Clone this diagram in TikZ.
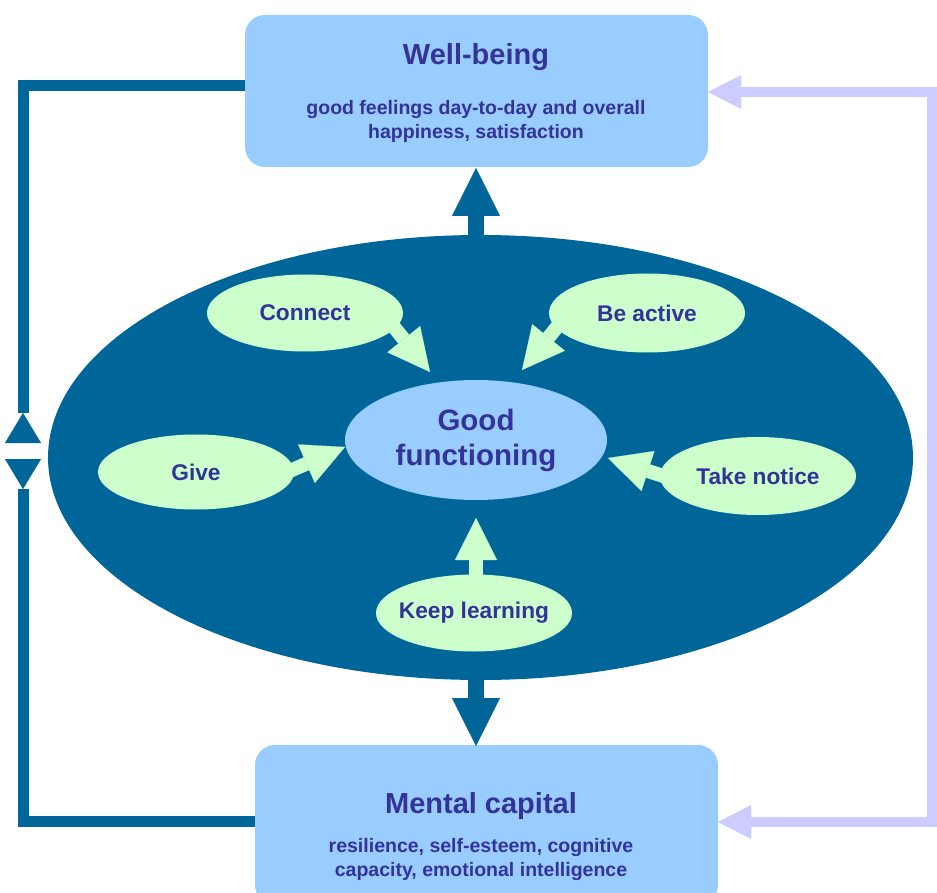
\documentclass[tikz,border=0pt]{standalone}
\usepackage{fontspec}
\setmainfont{Liberation Sans}
\usetikzlibrary{shapes.geometric,arrows.meta,calc}
\definecolor{dblue}{RGB}{0,102,153}
\definecolor{lblue}{RGB}{153,204,255}
\definecolor{lgreen}{RGB}{204,255,204}
\definecolor{navy}{RGB}{51,51,153}
\definecolor{lav}{RGB}{204,204,255}
\begin{document}
\begin{tikzpicture}[x=1pt,y=-1pt,
  box/.style={fill=lblue, draw=none, rounded corners=20pt, inner sep=0pt},
  coreell/.style={ellipse, fill=dblue, draw=none, inner sep=0pt},
  gfell/.style={ellipse, fill=lblue, draw=none, inner sep=0pt, minimum width=262pt, minimum height=120pt,
    text=navy, align=center, font=\fontsize{29.5}{35}\selectfont\bfseries},
  gell/.style={ellipse, fill=lgreen, draw=none, inner sep=0pt, minimum width=196pt, minimum height=77pt,
    text=navy, font=\fontsize{22.7}{26}\selectfont\bfseries},
  titletext/.style={text=navy, font=\fontsize{29}{34}\selectfont\bfseries, inner sep=0pt},
  subtext/.style={text=navy, align=center, font=\fontsize{19.5}{24}\selectfont\bfseries, inner sep=0pt},
  garrow/.style={draw=lgreen, line width=14pt, -{Triangle[length=42pt,width=42pt,line width=0.1pt]}},
  bigarrow/.style={draw=dblue, line width=16pt, -{Triangle[length=48pt,width=48pt,line width=0.1pt]}},
  lavline/.style={draw=lav, line width=10pt,
    {Triangle[length=33pt,width=34pt,line width=0.1pt]}-{Triangle[length=33pt,width=34pt,line width=0.1pt]}},
  leftline/.style={draw=dblue, line width=11pt, -{Triangle[reversed,length=30pt,width=36pt,line width=0.1pt]}}
]
\useasboundingbox (0,0) rectangle (937,893);
\clip (0,0) rectangle (937,893);

% coordinates
\coordinate (lt) at (23,86);
\coordinate (lm1) at (23,443);
\coordinate (lb) at (23,821);
\coordinate (lm2) at (23,459);
\coordinate (rt) at (932,92);
\coordinate (rb) at (932,822);

% boxes
\node[box, minimum width=463pt, minimum height=152pt] (wb) at (476.5,91) {};
\node[box, minimum width=463pt, minimum height=160pt] (mc) at (486.5,825) {};

% side connectors
\draw[leftline] (wb.west |- lt) -- (lt) -- (lm1);
\draw[leftline] (mc.west |- lb) -- (lb) -- (lm2);
\draw[lavline] (wb.east |- rt) -- (rt) -- (rb) -- (mc.east |- rb);

% core ellipse
\node[coreell, minimum width=865pt, minimum height=445pt] (core) at (480.5,457.5) {};

% big arrows
\coordinate (ta) at (476,245);
\coordinate (tb) at (476,168);
\coordinate (ba) at (476,672);
\coordinate (bb) at (476,746);
\draw[bigarrow] (ta) -- (tb);
\draw[bigarrow] (ba) -- (bb);

% green arrows
\coordinate (cs) at (374,302);  \coordinate (ct) at (430,372);
\coordinate (as) at (579,300);  \coordinate (at2) at (522,370);
\coordinate (gs) at (262,483);  \coordinate (gt) at (345,447);
\coordinate (ns) at (694,486);  \coordinate (nt) at (608,458);
\coordinate (ks) at (476,600);  \coordinate (kt) at (476,518);
\draw[garrow] (cs) -- (ct);
\draw[garrow] (as) -- (at2);
\draw[garrow] (gs) -- (gt);
\draw[garrow] (ns) -- (nt);
\draw[garrow] (ks) -- (kt);

% ellipses
\node[gfell] (gf) at (476,440) {Good\\functioning};
\node[gell] (connect) at (305,313) {Connect};
\node[gell, minimum height=79pt] (active) at (647,313) {Be active};
\node[gell, minimum height=75pt] (give) at (196,472) {Give};
\node[gell, minimum height=78pt] (notice) at (758,476) {\makebox[0pt]{Take notice}};
\node[gell] (learn) at (474,613) {\makebox[0pt]{Keep learning}};

% texts
\node[titletext] (wbt) at (476,57) {Well-being};
\node[subtext] (wbs) at (476,121) {good feelings day-to-day and overall\\happiness, satisfaction};
\node[titletext] (mct) at (481,806) {Mental capital};
\node[subtext] (mcs) at (481,859) {resilience, self-esteem, cognitive\\capacity, emotional intelligence};
\end{tikzpicture}
\end{document}
